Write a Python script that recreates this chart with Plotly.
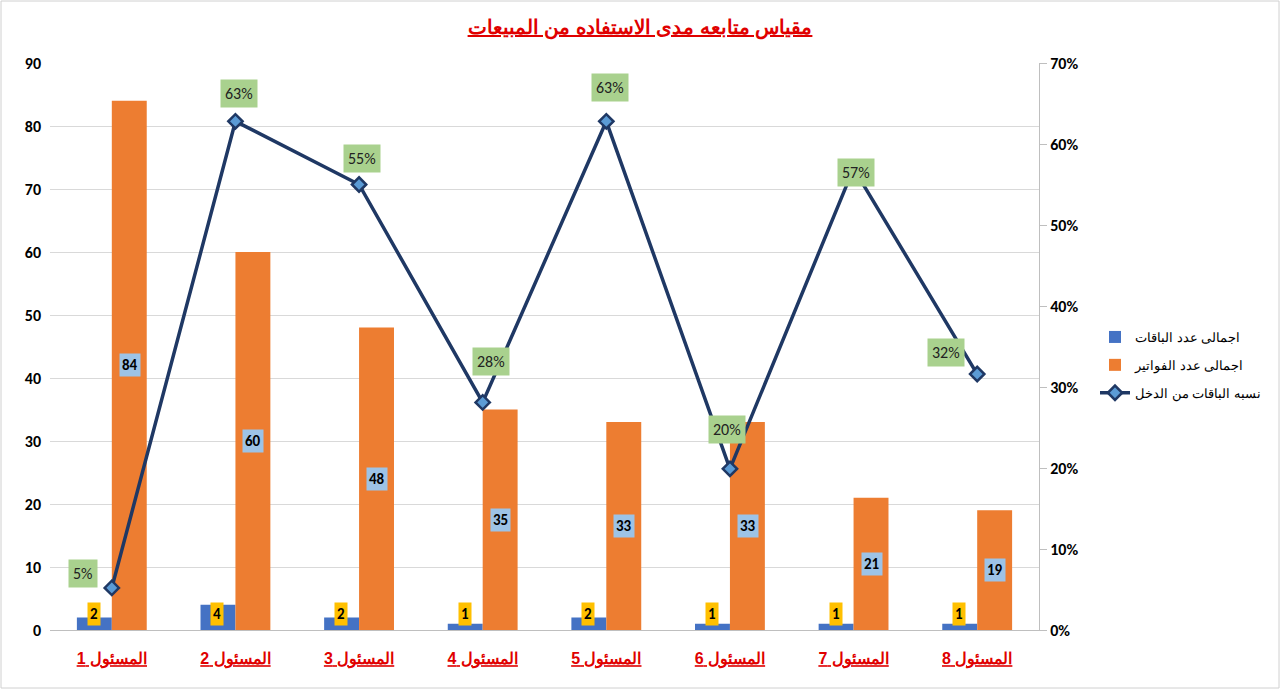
import plotly.graph_objects as go

categories = ["المسئول 1", "المسئول 2", "المسئول 3", "المسئول 4",
              "المسئول 5", "المسئول 6", "المسئول 7", "المسئول 8"]
packages = [2, 4, 2, 1, 2, 1, 1, 1]
invoices = [84, 60, 48, 35, 33, 33, 21, 19]
ratio = [0.052, 0.628, 0.55, 0.281, 0.628, 0.199, 0.57, 0.316]

name_packages = "اجمالى عدد الباقات"
name_invoices = "اجمالى عدد الفواتير"
name_ratio = "نسبه الباقات من الدخل"
title_text = "مقياس متابعه مدى الاستفاده من المبيعات"

# label offsets for percentage boxes (pixels)
pct_dx = [-29, 4, 3, 8, 4, -3, 2, -31]
pct_dy = [-14, -28, -26, -41, -34, -39, 4, -22]

W, H = 1280, 689
ML, MR, MT, MB = 50, 241, 63, 59

fig = go.Figure()
fig.add_trace(go.Bar(x=categories, y=packages, name=name_packages, legendgroup="a",
                     marker=dict(color="#4472C4", line=dict(width=0)), yaxis="y"))
fig.add_trace(go.Bar(x=categories, y=invoices, name=name_invoices, legendgroup="b",
                     marker=dict(color="#ED7D31", line=dict(width=0)), yaxis="y"))
fig.add_trace(go.Scatter(x=categories, y=ratio, name=name_ratio, yaxis="y2", legendgroup="c",
                         mode="lines+markers",
                         line=dict(color="#1F3864", width=3.5),
                         marker=dict(symbol="diamond", size=11, color="#5B9BD5",
                                     line=dict(color="#1F3864", width=2.5))))

ann = []
font_lbl = dict(family="Calibri, Carlito, Arial", size=15, color="#000000")
for i, c in enumerate(categories):
    ann.append(dict(x=c, y=0, xref="x", yref="y", text="<b>%d</b>" % packages[i],
                    showarrow=False, xshift=-18, yshift=16, bgcolor="#FFC000",
                    font=font_lbl, borderpad=2))
    ann.append(dict(x=c, y=invoices[i] / 2, xref="x", yref="y",
                    text="<b>%d</b>" % invoices[i], showarrow=False, xshift=18,
                    bgcolor="#9DC3E6", font=font_lbl, borderpad=2))
    ann.append(dict(x=c, y=ratio[i], xref="x", yref="y2",
                    text="%d%%" % round(ratio[i] * 100), showarrow=False,
                    xshift=pct_dx[i], yshift=-pct_dy[i], bgcolor="#A9D18E",
                    font=dict(family="Calibri, Carlito, Arial", size=16, color="#222222"),
                    borderpad=4))

pw = W - ML - MR
ph = H - MT - MB
shapes = [dict(type="rect", xref="paper", yref="paper",
               x0=-(ML - 1) / pw, x1=1 + (MR - 1) / pw,
               y0=-(MB - 1) / ph, y1=1 + (MT - 1) / ph,
               line=dict(color="#D0D0D0", width=1), fillcolor="rgba(0,0,0,0)", layer="below")]

fig.update_layout(
    width=W, height=H,
    margin=dict(l=ML, r=MR, t=MT, b=MB, autoexpand=False),
    paper_bgcolor="white", plot_bgcolor="white",
    barmode="group", bargap=0.435, bargroupgap=0,
    title=dict(text="<b><u>" + title_text + "</u></b>", x=0.5, xref="container",
               xanchor="center", y=1 - 27 / H, yanchor="middle",
               font=dict(family="Arial", size=20, color="#E00000")),
    xaxis=dict(type="category", tickmode="array", tickvals=categories,
               ticktext=["<b><u>" + c + "</u></b>" for c in categories],
               tickfont=dict(family="Arial", size=16, color="#E00000"),
               showline=True, linecolor="#BFBFBF", linewidth=1,
               showgrid=False, ticks="", ticklabelstandoff=14),
    yaxis=dict(range=[0, 90], dtick=10, showgrid=True, gridcolor="#D9D9D9",
               tickfont=dict(family="Calibri, Carlito, Arial", size=16, color="#000000"),
               zeroline=False, showline=False, tickprefix="<b>", ticksuffix="</b>",
               ticklabelstandoff=8),
    yaxis2=dict(range=[0, 0.7], dtick=0.1, tickformat=".0%", overlaying="y", side="right",
                showgrid=False, zeroline=False, showline=True, linecolor="#BFBFBF",
                ticks="outside", ticklen=7, tickcolor="#BFBFBF",
                tickprefix="<b>", ticksuffix="</b>",
                tickfont=dict(family="Calibri, Carlito, Arial", size=16, color="#000000")),
    legend=dict(x=1 + 56 / pw, y=1 - (365 - MT) / ph, xanchor="left", yanchor="middle",
                font=dict(family="Arial", size=13, color="#000000"),
                tracegroupgap=8, bgcolor="rgba(0,0,0,0)", traceorder="grouped",
                itemwidth=30),
    annotations=ann,
    shapes=shapes,
)

fig.write_html("out.html")
